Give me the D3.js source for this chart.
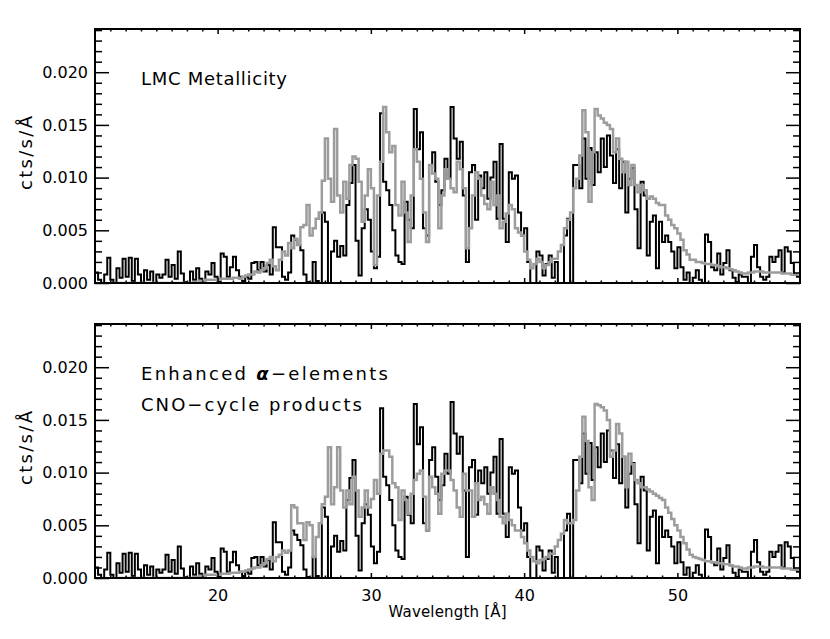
<!DOCTYPE html>
<html>
<head>
<meta charset="utf-8">
<script src="https://cdn.jsdelivr.net/npm/d3@7"></script>
<style>
  body { margin: 0; background: #fff; }
  text { font-family: "DejaVu Sans", sans-serif; fill: #000; }
</style>
</head>
<body>
<div id="chart"></div>
<script>
// 1: DATA
// wavelength grid: regular bins starting at 12 Å
const lambdaStart = 12;
const binWidth = 0.2;
const lambdaEnd = 58;

// rates in units of 1e-4 cts/s/Å, one value per bin
const observed = [
  10, 3, 0, 8, 24, 3, 0, 14, 5, 23,
  6, 24, 2, 23, 8, 0, 12, 3, 11, 0,
  8, 5, 8, 22, 6, 17, 4, 30, 9, 1,
  0, 11, 3, 14, 4, 0, 11, 8, 19, 6,
  2, 28, 25, 6, 15, 25, 12, 6, 2, 6,
  4, 19, 20, 12, 20, 11, 17, 8, 53, 34,
  34, 6, 3, 10, 45, 41, 36, 31, 8, 1,
  0, 20, 2, 0, 67, 58, 0, 30, 40, 25,
  35, 26, 74, 95, 112, 40, 7, 52, 70, 60,
  30, 14, 25, 161, 96, 88, 74, 50, 26, 20,
  18, 77, 60, 52, 165, 127, 143, 52, 45, 112,
  124, 96, 74, 88, 118, 99, 167, 137, 118, 134,
  83, 20, 105, 112, 60, 102, 90, 105, 80, 100,
  115, 61, 132, 61, 39, 105, 99, 102, 67, 45,
  52, 20, 0, 0, 30, 26, 7, 18, 26, 5,
  20, 0, 0, 45, 61, 0, 112, 112, 90, 137,
  99, 128, 93, 124, 105, 137, 110, 140, 121, 95,
  127, 90, 115, 67, 99, 109, 70, 33, 96, 83,
  26, 58, 64, 14, 58, 39, 45, 39, 30, 14,
  34, 15, 3, 10, 0, 5, 12, 3, 0, 46,
  39, 15, 12, 28, 8, 19, 31, 12, 5, 1,
  8, 6, 6, 0, 25, 36, 15, 6, 3, 6,
  25, 20, 25, 31, 10, 34, 30, 19, 8, 6
];

// model with LMC metallicity (top panel)
const modelLMC = [
  null, null, null, null, null, null, null, 0, 0, 0,
  0, 0, 0, 0, 0, 0, 0, 0, 0, 0,
  0, 0, 0, 0, 0, 0, 0, 0, 0, 0,
  0, 0, 1, 1, 2, 2, 3, 3, 3, 3,
  3, 4, 4, 4, 4, 5, 5, 4, 6, 7,
  8, 8, 11, 10, 12, 14, 19, 22, 16, 12,
  22, 30, 26, 38, 33, 42, 36, 53, 55, 74,
  45, 52, 61, 67, 97, 137, 99, 77, 146, 83,
  67, 96, 80, 112, 120, 118, 96, 58, 83, 108,
  90, 17, 83, 115, 167, 143, 124, 130, 74, 64,
  96, 67, 39, 83, 127, 115, 99, 67, 39, 112,
  104, 99, 52, 83, 108, 99, 90, 86, 115, 108,
  90, 33, 52, 83, 105, 99, 83, 75, 70, 96,
  74, 83, 52, 58, 66, 74, 70, 52, 48, 45,
  30, 22, 14, 18, 23, 20, 14, 17, 20, 23,
  23, 30, 36, 52, 60, 67, 90, 99, 121, 164,
  143, 77, 124, 165, 159, 156, 152, 150, 146, 124,
  137, 118, 105, 115, 93, 112, 93, 86, 93, 88,
  80, 82, 80, 76, 74, 74, 64, 60, 55, 52,
  47, 41, 31, 27, 22, 22, 20, 20, 19, 18,
  18, 17, 17, 16, 15, 15, 14, 13, 12, 11,
  10, 9, 9, 10, 10, 11, 11, 11, 10, 10,
  10, 10, 10, 10, 9, 9, 9, 8, 8, 8
];

// model with enhanced alpha-elements + CNO-cycle products (bottom panel)
const modelAlphaCNO = [
  null, null, null, null, null, null, null, 0, 0, 0,
  0, 0, 0, 0, 0, 0, 0, 0, 0, 0,
  0, 0, 0, 0, 0, 0, 0, 0, 0, 0,
  0, 0, 1, 1, 2, 2, 3, 3, 3, 3,
  3, 4, 4, 4, 5, 5, 5, 6, 6, 7,
  8, 9, 10, 10, 12, 14, 18, 20, 16, 20,
  22, 26, 24, 26, 69, 67, 52, 52, 36, 53,
  50, 20, 39, 52, 70, 77, 124, 70, 86, 124,
  83, 67, 83, 70, 96, 83, 58, 67, 83, 67,
  75, 93, 80, 118, 121, 121, 115, 90, 86, 55,
  83, 74, 61, 80, 93, 99, 102, 77, 45, 96,
  86, 80, 61, 99, 102, 102, 93, 83, 67, 58,
  99, 83, 83, 58, 90, 74, 77, 70, 61, 86,
  80, 74, 58, 52, 61, 55, 50, 45, 45, 39,
  33, 26, 20, 16, 14, 17, 18, 20, 23, 23,
  30, 36, 42, 55, 52, 52, 55, 83, 115, 153,
  130, 86, 74, 165, 164, 162, 159, 150, 115, 121,
  146, 137, 115, 86, 118, 108, 93, 90, 86, 86,
  84, 82, 80, 78, 76, 74, 67, 62, 56, 50,
  45, 39, 33, 27, 22, 20, 19, 18, 17, 16,
  16, 15, 15, 14, 14, 13, 13, 12, 11, 11,
  10, 9, 9, 10, 10, 11, 11, 11, 10, 10,
  10, 10, 10, 10, 9, 9, 9, 8, 8, 8
];

const xTicks = [20, 30, 40, 50];
const yTicks = [0, 0.005, 0.010, 0.015, 0.020];
const yMax = 0.0241;

const panelInfo = [
  { model: modelLMC, labels: ["LMC Metallicity"], lengths: [146] },
  { model: modelAlphaCNO, labels: ["Enhanced |α|−elements", "CNO−cycle products"], lengths: [247, 221] }
];

// 2: LAYOUT
const W = 830, H = 639;
const left = 95, right = 800;
const frames = [{ top: 29, bottom: 283 }, { top: 324, bottom: 578 }];

const svg = d3.select("#chart").append("svg")
  .attr("width", W)
  .attr("height", H);

const xScale = d3.scaleLinear().domain([lambdaStart, lambdaEnd]).range([left, right]);

// histogram points, rate scaled back to cts/s/Å
function toSteps(arr) {
  const pts = arr.map((v, i) => ({ x: lambdaStart + i * binWidth, v: v == null ? null : v * 1e-4 }));
  pts.push({ x: lambdaEnd, v: pts[pts.length - 1].v });
  return pts;
}
const observedSteps = toSteps(observed);

function styleTicks(g, fontSize) {
  g.select(".domain").remove();
  g.selectAll(".tick line").attr("stroke", "#000").attr("stroke-width", 1.5);
  g.selectAll("text")
    .attr("font-family", "DejaVu Sans, sans-serif")
    .attr("font-size", fontSize)
    .attr("fill", "#000");
}

panelInfo.forEach((p, k) => {
  const f = frames[k];
  const yScale = d3.scaleLinear().domain([0, yMax]).range([f.bottom, f.top]);
  const g = svg.append("g");

  // 3: CLIP + DATA
  g.append("clipPath").attr("id", "clip" + k)
    .append("rect")
    .attr("x", left).attr("y", f.top)
    .attr("width", right - left).attr("height", f.bottom - f.top);

  const line = d3.line()
    .defined(d => d.v != null)
    .x(d => xScale(d.x))
    .y(d => yScale(d.v))
    .curve(d3.curveStepAfter);

  const plot = g.append("g").attr("clip-path", `url(#clip${k})`);
  plot.append("path")
    .attr("d", line(observedSteps))
    .attr("fill", "none")
    .attr("stroke", "#000")
    .attr("stroke-width", 2);
  plot.append("path")
    .attr("d", line(toSteps(p.model)))
    .attr("fill", "none")
    .attr("stroke", "#9c9c9c")
    .attr("stroke-width", 2.5);

  // 4: AXES (ticks pointing inward on all four sides)
  const minorY = d3.range(0, yMax, 0.001).filter(v => Math.abs(v / 0.005 - Math.round(v / 0.005)) > 1e-6);
  const minorX = d3.range(13, lambdaEnd, 1).filter(v => v % 10 !== 0);

  g.append("g").attr("transform", `translate(${left},0)`)
    .call(d3.axisLeft(yScale).tickValues(yTicks).tickFormat(d3.format(".3f")).tickSize(-14).tickPadding(7))
    .call(a => styleTicks(a, 16));
  g.append("g").attr("transform", `translate(${left},0)`)
    .call(d3.axisLeft(yScale).tickValues(minorY).tickFormat("").tickSize(-7))
    .call(a => styleTicks(a, 16));
  g.append("g").attr("transform", `translate(${right},0)`)
    .call(d3.axisRight(yScale).tickValues(yTicks).tickFormat("").tickSize(-14))
    .call(a => styleTicks(a, 16));
  g.append("g").attr("transform", `translate(${right},0)`)
    .call(d3.axisRight(yScale).tickValues(minorY).tickFormat("").tickSize(-7))
    .call(a => styleTicks(a, 16));

  g.append("g").attr("transform", `translate(0,${f.bottom})`)
    .call(d3.axisBottom(xScale).tickValues(xTicks).tickFormat(k === 1 ? d3.format("d") : "").tickSize(-5).tickPadding(12))
    .call(a => styleTicks(a, 16));
  g.append("g").attr("transform", `translate(0,${f.bottom})`)
    .call(d3.axisBottom(xScale).tickValues(minorX).tickFormat("").tickSize(-2.5))
    .call(a => styleTicks(a, 16));
  g.append("g").attr("transform", `translate(0,${f.top})`)
    .call(d3.axisTop(xScale).tickValues(xTicks).tickFormat("").tickSize(-5))
    .call(a => styleTicks(a, 16));
  g.append("g").attr("transform", `translate(0,${f.top})`)
    .call(d3.axisTop(xScale).tickValues(minorX).tickFormat("").tickSize(-2.5))
    .call(a => styleTicks(a, 16));

  // frame
  g.append("rect")
    .attr("x", left).attr("y", f.top)
    .attr("width", right - left).attr("height", f.bottom - f.top)
    .attr("fill", "none")
    .attr("stroke", "#000")
    .attr("stroke-width", 2);

  // 5: LABELS
  g.append("text")
    .attr("transform", `translate(32,${(f.top + f.bottom) / 2 - 3}) rotate(-90)`)
    .attr("text-anchor", "middle")
    .attr("font-size", 18)
    .attr("textLength", 74)
    .attr("lengthAdjust", "spacing")
    .text("cts/s/Å");

  p.labels.forEach((lab, j) => {
    const t = g.append("text")
      .attr("x", 141)
      .attr("y", f.top + 56 + j * 31)
      .attr("font-size", 18)
      .attr("textLength", p.lengths[j])
      .attr("lengthAdjust", "spacing");
    // |...| marks the greek letter
    lab.split("|").forEach((part, n) => {
      const s = t.append("tspan").text(part);
      if (n % 2 === 1) s.attr("font-weight", "bold").attr("font-style", "italic");
    });
  });
});

svg.append("text")
  .attr("x", (left + right) / 2)
  .attr("y", 617)
  .attr("text-anchor", "middle")
  .attr("font-size", 15)
  .attr("textLength", 118)
  .attr("lengthAdjust", "spacing")
  .text("Wavelength [Å]");
</script>
</body>
</html>
